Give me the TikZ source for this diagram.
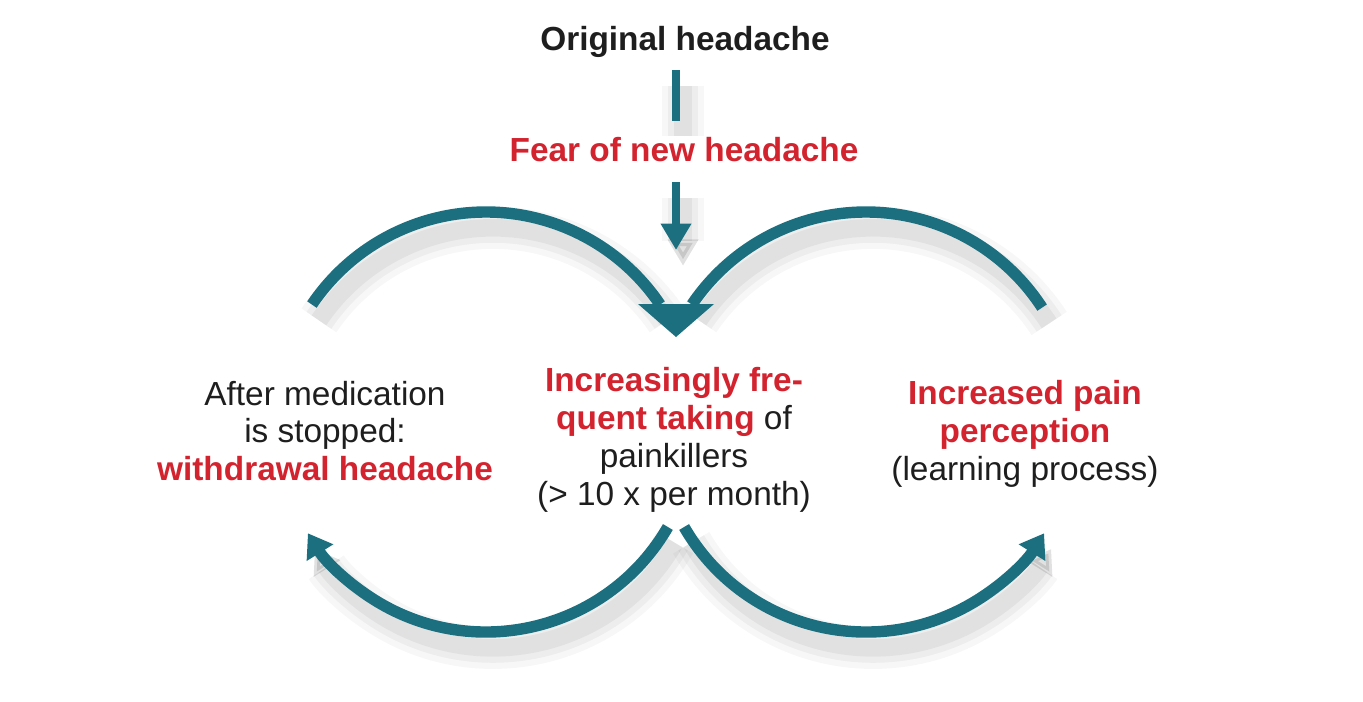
\documentclass[tikz,border=0pt]{standalone}
\usepackage{fontspec}
\setmainfont{Liberation Sans}
\usetikzlibrary{positioning, arrows.meta, calc}
\definecolor{loopteal}{HTML}{1B6F7F}
\definecolor{alertred}{HTML}{D2232F}
\definecolor{textgray}{HTML}{1E1E1E}
\newcommand{\hl}[1]{\textcolor{alertred}{\textbf{#1}}}

\begin{document}
\begin{tikzpicture}[
    x=0.02cm, y=0.02cm,
    txt/.style={align=center, font=\fontsize{19}{21.5}\selectfont, text=textgray, inner sep=0pt},
    head/.style={txt, font=\fontsize{19}{21.5}\selectfont\bfseries},
    ringarc/.style={draw=loopteal, line width=6.5pt},
    shade/.style={
      preaction={draw=black, opacity=0.03, line width=24pt, transform canvas={shift={(4pt,-9pt)}}},
      preaction={draw=black, opacity=0.04, line width=17pt, transform canvas={shift={(4pt,-9pt)}}},
      preaction={draw=black, opacity=0.05, line width=10pt, transform canvas={shift={(4pt,-9pt)}}}},
    tipsmall/.style={-{Triangle[length=13pt, width=17pt]}},
  ]
    \useasboundingbox (0,0) rectangle (1363,701);

    % texts
    \node[head] (orig) at (685,659) {Original headache};
    \node[head, text=alertred] (fear) at (684,551) {Fear of new headache};
    \node[txt] (withdraw) at (325,270) {After medication\\is stopped:\\\hl{withdrawal headache}};
    \node[txt] (intake) at (674,261) {\hl{Increasingly fre-}\\\hl{quent taking} of\\painkillers\\(> 10 x per month)};
    \node[txt] (percept) at (1025,267) {\hl{Increased pain}\\\hl{perception}\\(learning process)};

    \coordinate (axis) at (676,0);
    \coordinate (into) at (676,451);
    \coordinate (tip) at (676,364);
    \coordinate (cl) at (486,279);
    \coordinate (cr) at (866,279);

    % vertical arrows
    \draw[ringarc, line width=5pt, shade, shorten <=6.8pt, shorten >=9.6pt] (orig.south -| axis) -- (fear.north -| axis);
    \draw[ringarc, line width=5pt, shade, shorten <=11pt, -{Triangle[length=15pt, width=16.5pt]}] (fear.south -| axis) -- (into);

    % upper arcs into the big head
    \draw[ringarc, shade] ($(cl)+(146:210)$) arc[start angle=146, end angle=34, radius=210];
    \draw[ringarc, shade] ($(cr)+(33:210)$) arc[start angle=33, end angle=146, radius=210];
    \fill[loopteal] (638,397) -- (714,397) -- (tip) -- cycle;

    % lower arcs
    \draw[ringarc, shade, tipsmall] ($(cl)+(-30:210)$) arc[start angle=-30, end angle=-148, radius=210];
    \draw[ringarc, shade, tipsmall] ($(cr)+(-150:210)$) arc[start angle=-150, end angle=-32, radius=210];
\end{tikzpicture}
\end{document}
